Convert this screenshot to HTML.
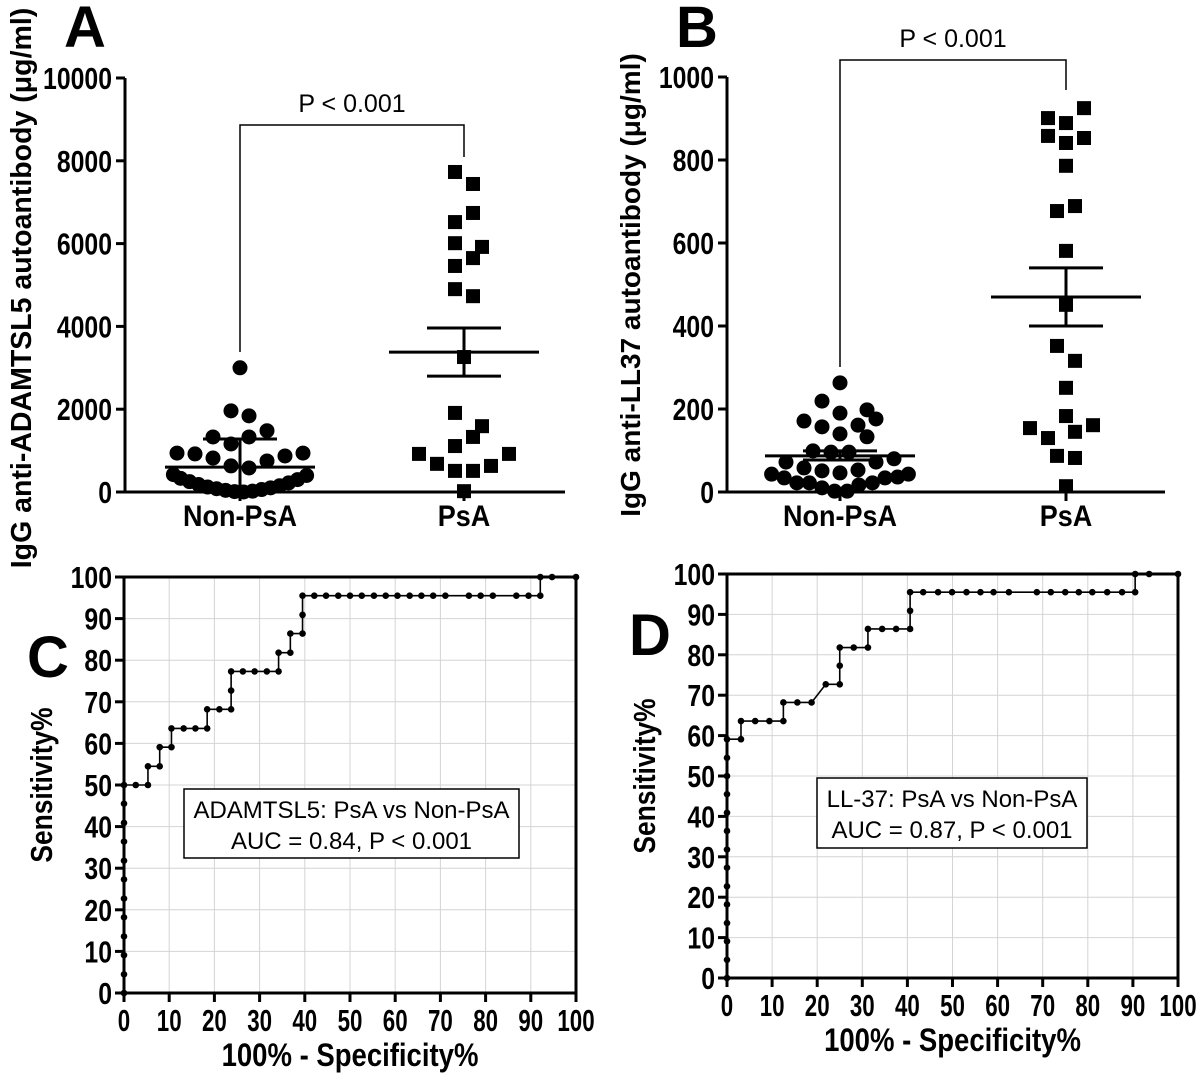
<!DOCTYPE html>
<html><head><meta charset="utf-8"><style>
html,body{margin:0;padding:0;background:#fff}
svg{display:block}
.b{font-family:"Liberation Sans",sans-serif;font-weight:bold;fill:#000}
.r{font-family:"Liberation Sans",sans-serif;fill:#000}
</style></head><body>
<svg id="fig" width="1200" height="1075" viewBox="0 0 1200 1075" xmlns="http://www.w3.org/2000/svg"></svg>
<script>
// ---- Panel A data (values in µg/ml, jitter in column units) ----
const aNonVals = [3000,1960,1840,1480,1330,1330,1160,940,920,820,870,940,750,630,580,420,330,250,180,120,80,40,10,0,20,60,100,150,220,300,400];
const aNonJit  = [0,-0.5,0.5,1.5,-1.5,0.5,-0.5,-3.5,-2.5,-1.5,2.5,3.5,1.5,-0.5,0.5,-3.7,-3.3,-2.8,-2.3,-1.8,-1.3,-0.8,-0.3,0.2,0.7,1.2,1.7,2.2,2.7,3.2,3.7];
const aPsaVals = [7730,7440,6740,6520,6010,5920,5650,5460,4900,4730,3260,1910,1590,1330,1110,920,920,680,510,510,630,20];
const aPsaJit  = [-0.5,0.5,0.5,-0.5,-0.5,1,0.5,-0.5,-0.5,0.5,0,-0.5,1,0.5,-0.5,-2.5,2.5,-1.5,-0.5,0.5,1.5,0];
const aNonStats = [600,1280,0];   // mean, upper, lower
const aPsaStats = [3380,3960,2800];
const aTicks = [0,2000,4000,6000,8000,10000];
// ---- Panel B data ----
const bNonVals = [263,219,190,198,176,171,157,161,140,133,99,96,96,72,72,80,58,51,46,53,43,34,43,36,34,22,22,22,17,10,2,2];
const bNonJit  = [0,-1,0,1.5,2,-2,-1,1,0,1.5,-1.5,-0.5,0.5,-3,2,3,-2,-1,0,1,-3.8,-3.1,3.8,3.2,2.5,-2.4,-1.7,1.8,1.05,-1,-0.3,0.4];
const bPsaVals = [901,889,925,858,841,853,786,677,689,581,451,352,316,251,183,154,161,145,130,87,82,14];
const bPsaJit  = [-1,0,1,-1,0,1,0,-0.5,0.5,0,0,-0.5,0.5,0,0,-2,1.5,0.5,-1,-0.5,0.5,0];
const bNonStats = [87,99,77];
const bPsaStats = [470,540,400];
const bTicks = [0,200,400,600,800,1000];
// ---- ROC C ----
const cX = [0,0,0,0,0,0,0,0,0,0,0,0,2.6,5.3,5.3,7.9,7.9,10.5,10.5,13.2,15.8,18.4,18.4,21.1,23.7,23.7,23.7,26.3,28.9,31.6,34.2,34.2,36.8,36.8,39.5,39.5,39.5,42.1,44.7,47.4,50,52.6,55.3,57.9,60.5,63.2,65.8,68.4,71.1,76.3,78.9,81.6,86.8,89.5,92.1,92.1,94.7,100];
const cY = [0,4.5,9.1,13.6,18.2,22.7,27.3,31.8,36.4,40.9,45.5,50,50,50,54.5,54.5,59.1,59.1,63.6,63.6,63.6,63.6,68.2,68.2,68.2,72.7,77.3,77.3,77.3,77.3,77.3,81.8,81.8,86.4,86.4,90.9,95.5,95.5,95.5,95.5,95.5,95.5,95.5,95.5,95.5,95.5,95.5,95.5,95.5,95.5,95.5,95.5,95.5,95.5,95.5,100,100,100];
// ---- ROC D ----
const dX = [0,0,0,0,0,0,0,0,0,0,0,0,0,0,3.1,3.1,6.25,9.4,12.5,12.5,15.6,18.75,21.9,25,25,25,28.1,31.25,31.25,34.4,37.5,40.6,40.6,40.6,43.5,46.8,49.9,53.1,56.2,59.1,62.5,68.7,71.8,75,78,81,84.3,87.6,90.5,90.5,93.6,100];
const dY = [0,4.5,9.1,13.6,18.2,22.7,27.3,31.8,36.4,40.9,45.5,50,54.5,59.1,59.1,63.6,63.6,63.6,63.6,68.2,68.2,68.2,72.7,72.7,77.3,81.8,81.8,81.8,86.4,86.4,86.4,86.4,90.9,95.5,95.5,95.5,95.5,95.5,95.5,95.5,95.5,95.5,95.5,95.5,95.5,95.5,95.5,95.5,95.5,100,100,100];
const rocTicks = [0,10,20,30,40,50,60,70,80,90,100];

const NS='http://www.w3.org/2000/svg';
const svg=document.getElementById('fig');
function mk(tag,attrs,parent){const e=document.createElementNS(NS,tag);for(const k in attrs)e.setAttribute(k,attrs[k]);(parent||svg).appendChild(e);return e;}
function txt(s,attrs,parent){const e=mk('text',attrs,parent);e.textContent=s;return e;}
function bt(s,x,y,size,sx,anchor,parent,rot){
  const tr=`translate(${x},${y})`+(rot?' rotate(-90)':'')+` scale(${sx},1)`;
  return txt(s,{transform:tr,x:0,y:0,'text-anchor':anchor,'font-size':size,class:'b'},parent);
}

function scatter(o){
  const g=mk('g',{});
  
  
  const y=v=>o.y0-(v/o.max)*(o.y0-o.y1);
  const step=18;
  const ax=mk('path',{d:`M${o.ax} ${o.y1} V${o.y0} H${o.axEnd}`,stroke:'#000','stroke-width':3,fill:'none'},g);
  
  
  o.ticks.forEach(t=>{
    mk('line',{x1:o.ax-9,x2:o.ax,y1:y(t),y2:y(t),stroke:'#000','stroke-width':3},g);
    const l=bt(String(t),o.ax-13,y(t)+11,31,0.8,'end',g);
    
    
  });
  [o.c1,o.c2].forEach((c,i)=>{
    mk('line',{x1:c,x2:c,y1:o.y0,y2:o.y0+9,stroke:'#000','stroke-width':3},g);
    const l=bt(i?'PsA':'Non-PsA',c,o.y0+34,30,0.9,'middle',g);
    
    
  });
  o.nonV.forEach((v,i)=>{
    const p=mk('circle',{cx:o.c1+o.nonJ[i]*step,cy:y(v),r:7.5,fill:'#000'},g);
    
    
  });
  o.psaV.forEach((v,i)=>{
    const p=mk('rect',{x:o.c2+o.psaJ[i]*step-7,y:y(v)-7,width:14,height:14,fill:'#000'},g);
    
    
  });
  [[o.c1,o.nonS],[o.c2,o.psaS]].forEach(([c,s])=>{
    const sg=mk('g',{stroke:'#000','stroke-width':3},g);
    
    
    mk('line',{x1:c-75,x2:c+75,y1:y(s[0]),y2:y(s[0])},sg);
    mk('line',{x1:c,x2:c,y1:y(s[1]),y2:y(s[2])},sg);
    mk('line',{x1:c-37,x2:c+37,y1:y(s[1]),y2:y(s[1])},sg);
    if(s[2]>0)mk('line',{x1:c-37,x2:c+37,y1:y(s[2]),y2:y(s[2])},sg);
  });
  const br=mk('path',{d:`M${o.c1} ${o.brL} V${o.brY} H${o.c2} V${o.brR}`,stroke:'#000','stroke-width':1.5,fill:'none'},g);
  
  
  const pt=txt('P < 0.001',{x:(o.c1+o.c2)/2,y:o.brY-13,'text-anchor':'middle','font-size':25,class:'r'},g);
  
  
  const yt=bt(o.title,o.tx,o.ty,o.tsize,1,'middle',g,true);
  
  
  const pl=txt(o.letter,{x:o.lx,y:o.ly,'text-anchor':'middle','font-size':58,class:'b'},g);
  
  
}

function roc(o){
  const g=mk('g',{});
  
  
  const X=v=>o.x0+v/100*(o.x1-o.x0), Y=v=>o.y0-v/100*(o.y0-o.y1);
  rocTicks.forEach(t=>{
    if(t>0&&t<100){
      mk('line',{x1:X(t),x2:X(t),y1:o.y0,y2:o.y1,stroke:'#d4d4d4','stroke-width':1},g);
      mk('line',{x1:o.x0,x2:o.x1,y1:Y(t),y2:Y(t),stroke:'#d4d4d4','stroke-width':1},g);
    }
  });
  const ax=mk('path',{d:`M${o.x0} ${o.y1} H${o.x1} V${o.y0} H${o.x0} Z`,stroke:'#000','stroke-width':3,fill:'none'},g);
  
  
  rocTicks.forEach(t=>{
    mk('line',{x1:X(t),x2:X(t),y1:o.y0,y2:o.y0+9,stroke:'#000','stroke-width':3},g);
    mk('line',{x1:o.x0-9,x2:o.x0,y1:Y(t),y2:Y(t),stroke:'#000','stroke-width':3},g);
    const a=bt(String(t),X(t),o.y0+38,31,0.72,'middle',g);
    
    
    const b=bt(String(t),o.x0-12,Y(t)+11,31,0.8,'end',g);
    
    
  });
  const d=o.xs.map((v,i)=>(i?'L':'M')+X(v)+' '+Y(o.ys[i])).join(' ');
  const ln=mk('path',{d,stroke:'#000','stroke-width':1.6,fill:'none'},g);
  
  
  o.xs.forEach((v,i)=>{
    const p=mk('circle',{cx:X(v),cy:Y(o.ys[i]),r:3.3,fill:'#000'},g);
    
    
  });
  const lg=mk('g',{},g);
  
  
  mk('rect',{x:o.bx,y:o.by,width:o.bw,height:o.bh,fill:'#fff',stroke:'#000','stroke-width':1.5},lg);
  txt(o.l1,{x:o.bx+o.bw/2,y:o.by+29,'text-anchor':'middle','font-size':24,class:'r'},lg);
  txt(o.l2,{x:o.bx+o.bw/2,y:o.by+60,'text-anchor':'middle','font-size':24,class:'r'},lg);
  const xt=bt('100% - Specificity%',(o.x0+o.x1)/2,o.y0+73,32,0.86,'middle',g);
  
  
  const yt=bt('Sensitivity%',o.tx,(o.y0+o.y1)/2,31,0.85,'middle',g,true);
  
  
  const pl=txt(o.letter,{x:o.lx,y:o.ly,'text-anchor':'middle','font-size':58,class:'b'},g);
  
  
}

scatter({name:'panel-a',ax:125,axEnd:565,y0:492,y1:78,max:10000,ticks:aTicks,c1:240,c2:464,
  nonV:aNonVals,nonJ:aNonJit,psaV:aPsaVals,psaJ:aPsaJit,nonS:aNonStats,psaS:aPsaStats,
  brY:125,brL:352,brR:157,title:'IgG anti-ADAMTSL5 autoantibody (\u03bcg/ml)',tsize:28.5,tx:31,ty:288,letter:'A',lx:85,ly:47});
scatter({name:'panel-b',ax:727,axEnd:1165,y0:492,y1:77,max:1000,ticks:bTicks,c1:840,c2:1066,
  nonV:bNonVals,nonJ:bNonJit,psaV:bPsaVals,psaJ:bPsaJit,nonS:bNonStats,psaS:bPsaStats,
  brY:60,brL:367,brR:90,title:'IgG anti-LL37 autoantibody (\u03bcg/ml)',tsize:28,tx:640,ty:285,letter:'B',lx:697,ly:47});
roc({name:'panel-c',x0:124,x1:576,y0:993,y1:577,xs:cX,ys:cY,bx:184,by:789,bw:335,bh:69,
  l1:'ADAMTSL5: PsA vs Non-PsA',l2:'AUC = 0.84, P < 0.001',tx:52,letter:'C',lx:48,ly:677});
roc({name:'panel-d',x0:727,x1:1178,y0:978,y1:574,xs:dX,ys:dY,bx:817,by:778,bw:270,bh:70,
  l1:'LL-37: PsA vs Non-PsA',l2:'AUC = 0.87, P < 0.001',tx:655,letter:'D',lx:650,ly:655});
</script>
</body></html>
